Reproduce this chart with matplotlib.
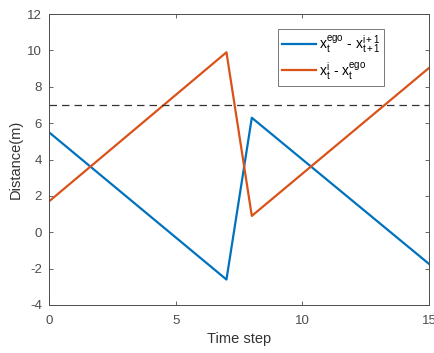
import matplotlib
matplotlib.use("Agg")
import matplotlib.pyplot as plt

plt.rcParams["font.family"] = ["Liberation Sans", "DejaVu Sans"]
plt.rcParams["mathtext.fontset"] = "custom"
plt.rcParams["mathtext.rm"] = "Liberation Sans"
plt.rcParams["mathtext.it"] = "Liberation Sans"
plt.rcParams["axes.unicode_minus"] = False

# data
time_steps = [0, 7, 8, 15]
ego_minus_next = [5.5, -2.6, 6.3, -1.75]
i_minus_ego = [1.7, 9.9, 0.9, 9.05]
threshold = 7

BLUE = "#0072BD"
ORANGE = "#D95319"
AXIS_GRAY = "#4d4d4d"

fig = plt.figure(figsize=(4.34, 3.53), dpi=100)
ax = fig.add_axes([0.113, 0.136, 0.876, 0.824])

ax.plot(time_steps, ego_minus_next, color=BLUE, lw=1.6,
        label=r"$\mathrm{x_t^{ego}}$ - $\mathrm{x_{t+1}^{i+1}}$")
ax.plot(time_steps, i_minus_ego, color=ORANGE, lw=1.6,
        label=r"$\mathrm{x_t^{i}}$ - $\mathrm{x_t^{ego}}$")
ax.axhline(threshold, color="#333333", lw=0.9, ls=(0, (6, 4)))

ax.set_xlim(0, 15)
ax.set_ylim(-4, 12)
ax.set_xticks([0, 5, 10, 15])
ax.set_yticks(range(-4, 13, 2))
ax.tick_params(direction="in", length=3, width=0.6, colors=AXIS_GRAY,
               labelsize=9.5, top=True, right=True, labeltop=False, labelright=False)
ax.tick_params(axis="x", pad=7)
ax.tick_params(axis="y", pad=5)
for s in ax.spines.values():
    s.set_color(AXIS_GRAY)
    s.set_linewidth(0.7)

ax.set_xlabel("Time step", fontsize=10.5, color="#333333", labelpad=4)
ax.set_ylabel("Distance(m)", fontsize=10.5, color="#333333", labelpad=3)

leg = ax.legend(loc="upper left", bbox_to_anchor=(0.603, 0.948), fontsize=10,
                frameon=True, fancybox=False, handlelength=2.4,
                borderpad=0.3, labelspacing=0.32, handletextpad=0.2,
                borderaxespad=0)
leg.get_frame().set_edgecolor("#555555")
leg.get_frame().set_linewidth(0.7)

fig.savefig("out.png", dpi=100)
